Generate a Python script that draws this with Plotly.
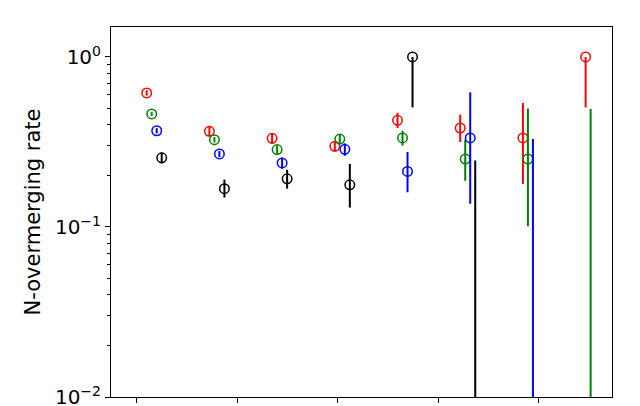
import math
import plotly.graph_objects as go

# ---- data ----
groups = [0, 1, 2, 3, 4, 5, 6, 7]
series_names = ["red", "green", "blue", "black"]
series_colors = ["#ff0000", "#008000", "#0000ff", "#000000"]
nan = float("nan")

red_vals = [0.614, 0.365, 0.332, 0.298, 0.424, 0.382, 0.334, 1.0]
red_lo = [0.022, 0.023, 0.023, 0.020, 0.042, 0.066, 0.155, 0.495]
red_hi = [0.023, 0.024, 0.024, 0.021, 0.045, 0.076, 0.202, 0.0]

green_vals = [0.462, 0.326, 0.285, 0.329, 0.334, 0.251, 0.251, 0.0]
green_lo = [0.012, 0.012, 0.016, 0.022, 0.033, 0.064, 0.150, 0.0]
green_hi = [0.012, 0.012, 0.016, 0.022, 0.034, 0.075, 0.246, 0.494]

blue_vals = [0.368, 0.269, 0.238, 0.286, 0.212, 0.334, 0.0, nan]
blue_lo = [0.013, 0.011, 0.018, 0.024, 0.052, 0.197, 0.0, nan]
blue_hi = [0.013, 0.011, 0.018, 0.024, 0.064, 0.285, 0.329, nan]

black_vals = [0.255, 0.168, 0.192, 0.177, 1.0, 0.0, nan, nan]
black_lo = [0.019, 0.019, 0.024, 0.047, 0.495, 0.0, nan, nan]
black_hi = [0.019, 0.022, 0.025, 0.058, 0.0, 0.246, nan, nan]

ytick_vals = [0.01, 0.1, 1.0]
ytick_text = ["10<sup>\u22122</sup>", "10<sup>\u22121</sup>", "10<sup>0</sup>"]
xtick_vals = [0, 1, 2, 3, 4]

# ---- layout constants ----
X0 = 0.1015        # first group position (axis units)
GSTEP = 0.6239     # spacing between groups
SSTEP = 0.0498     # offset between series inside a group
FLOOR = 1e-4       # lower end for bars that reach <= 0 (clipped by axis)

all_series = [
    (red_vals, red_lo, red_hi),
    (green_vals, green_lo, green_hi),
    (blue_vals, blue_lo, blue_hi),
    (black_vals, black_lo, black_hi),
]

fig = go.Figure()
for s, (vals, lo, hi) in enumerate(all_series):
    color = series_colors[s]
    bx, by, mx, my = [], [], [], []
    for g, v, l, h in zip(groups, vals, lo, hi):
        if v is None or math.isnan(v):
            continue
        x = X0 + GSTEP * g + SSTEP * s
        bot = v - l
        if bot <= 0:
            bot = FLOOR
        bx += [x, x, None]
        by += [bot, v + h, None]
        if v > 0:
            mx.append(x)
            my.append(v)
    fig.add_trace(go.Scatter(x=bx, y=by, mode="lines",
                             line=dict(color=color, width=2),
                             showlegend=False, hoverinfo="skip"))
    fig.add_trace(go.Scatter(x=mx, y=my, mode="markers",
                             marker=dict(symbol="circle-open", size=9.5,
                                         color=color,
                                         line=dict(color=color, width=1.5)),
                             showlegend=False, name=series_names[s]))

minor_vals = [m * 10 ** e for e in (-2, -1) for m in range(2, 10)]

# page body has an 8px margin, so the figure is 8px smaller and offset
fig.update_layout(
    width=632, height=398,
    margin=dict(l=103, r=28, t=19, b=9, autoexpand=False),
    paper_bgcolor="white", plot_bgcolor="white",
    font=dict(family="DejaVu Sans", color="black"),
    xaxis=dict(range=[-0.2537, 4.7313], tickmode="array", tickvals=xtick_vals,
               showticklabels=False, ticks="outside", ticklen=5, tickwidth=1,
               tickcolor="black", showgrid=False, zeroline=False,
               showline=True, linecolor="black", linewidth=1, mirror=True),
    yaxis=dict(type="log", range=[-2, 0.176], tickmode="array",
               tickvals=ytick_vals, ticktext=ytick_text,
               tickfont=dict(size=20, family="DejaVu Sans"),
               ticklabeloverflow="allow",
               ticks="outside", ticklen=5, tickwidth=1, tickcolor="black",
               minor=dict(tickmode="array", tickvals=minor_vals,
                          ticks="outside", ticklen=3, tickwidth=0.8,
                          tickcolor="black", showgrid=False),
               showgrid=False, zeroline=False,
               showline=True, linecolor="black", linewidth=1, mirror=True,
               title=dict(text="N-overmerging rate",
                          font=dict(size=21, family="DejaVu Sans"),
                          standoff=8)),
)

fig.write_html("out.html")
